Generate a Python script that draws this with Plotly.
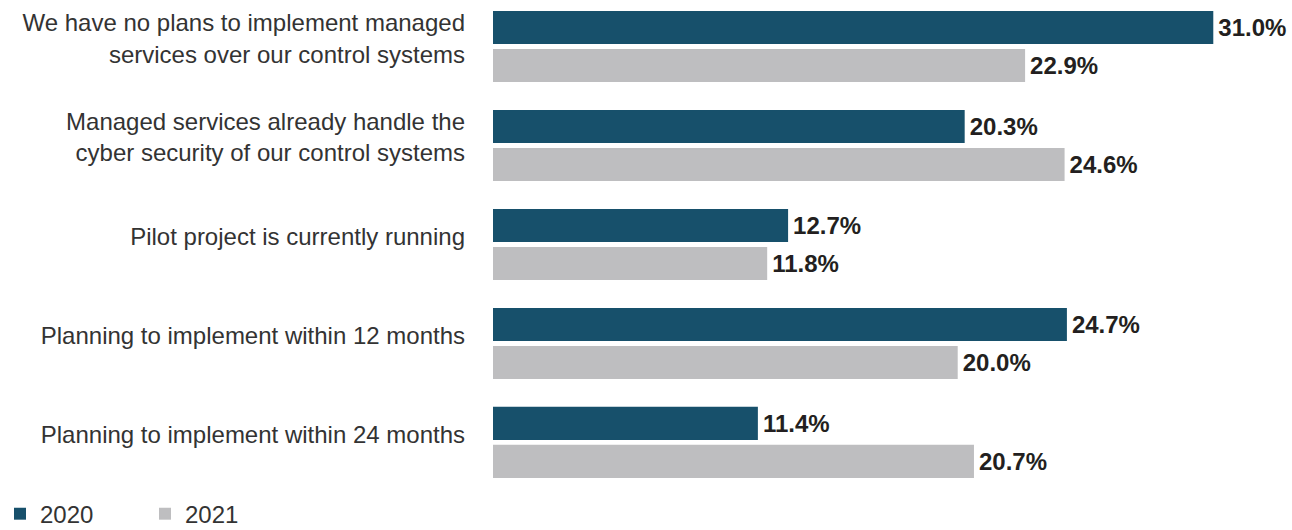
import plotly.graph_objects as go

categories = [
    "We have no plans to implement managed<br>services over our control systems",
    "Managed services already handle the<br>cyber security of our control systems",
    "Pilot project is currently running",
    "Planning to implement within 12 months",
    "Planning to implement within 24 months",
]
values_2020 = [31.0, 20.3, 12.7, 24.7, 11.4]
values_2021 = [22.9, 24.6, 11.8, 20.0, 20.7]
series_names = ["2020", "2021"]
colors = ["#17506B", "#BEBEC0"]

FONT = "Liberation Sans, Arial, sans-serif"

fig = go.Figure()
for name, vals, col in zip(series_names, [values_2020, values_2021], colors):
    fig.add_trace(go.Bar(
        y=categories, x=vals, name=name, orientation="h",
        marker=dict(color=col, line=dict(width=0)),
        text=[f"\u200a{v:.1f}%" for v in vals],
        textposition="outside",
        textfont=dict(family=FONT, size=24, color="#231F20", weight="bold"),
        cliponaxis=False,
    ))

fig.update_layout(
    width=1292, height=530,
    margin=dict(l=493, r=9, t=0, b=50, autoexpand=False),
    paper_bgcolor="white", plot_bgcolor="white",
    barmode="group", bargap=0.232, bargroupgap=0.13,
    font=dict(family=FONT, size=24, color="#333333"),
    xaxis=dict(range=[0, 34], visible=False, showgrid=False, zeroline=False,
               automargin=False),
    yaxis=dict(
        categoryorder="array", categoryarray=categories,
        range=[4.38, -0.47], showgrid=False, zeroline=False, showline=False,
        ticks="", ticklabelstandoff=27, ticklabelshift=8, automargin=False,
        tickfont=dict(family=FONT, size=24, color="#333333"),
    ),
    showlegend=True,
    legend=dict(
        orientation="h", xref="container", yref="paper",
        x=-0.003, y=-0.071, xanchor="left", yanchor="middle",
        font=dict(family=FONT, size=24, color="#333333"),
        traceorder="normal", entrywidth=100, entrywidthmode="pixels",
    ),
)

fig.write_html(
    "out.html",
    config={"displayModeBar": False},
    post_script="document.body.style.margin='0';document.body.style.overflow='hidden';",
)
